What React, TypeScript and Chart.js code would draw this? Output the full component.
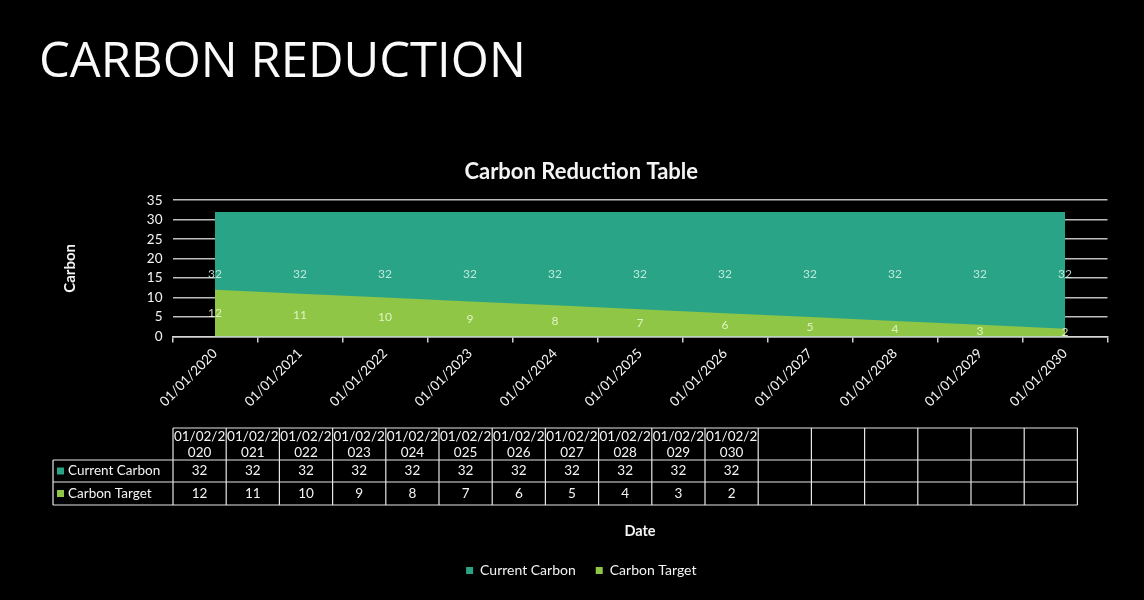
import { useEffect, useRef } from "react";
import { Chart, registerables } from "chart.js";

Chart.register(...registerables);

const pageTitle = "CARBON REDUCTION";
const chartTitle = "Carbon Reduction Table";
const categories = [
  "01/01/2020", "01/01/2021", "01/01/2022", "01/01/2023", "01/01/2024", "01/01/2025",
  "01/01/2026", "01/01/2027", "01/01/2028", "01/01/2029", "01/01/2030",
];
const tableHeaders = [
  "01/02/2020", "01/02/2021", "01/02/2022", "01/02/2023", "01/02/2024", "01/02/2025",
  "01/02/2026", "01/02/2027", "01/02/2028", "01/02/2029", "01/02/2030",
];
const seriesNames = ["Current Carbon", "Carbon Target"];
const currentCarbon = [32, 32, 32, 32, 32, 32, 32, 32, 32, 32, 32];
const carbonTarget = [12, 11, 10, 9, 8, 7, 6, 5, 4, 3, 2];
const yMin = 0;
const yMax = 35;
const yStep = 5;
const yTitle = "Carbon";
const xTitle = "Date";
const emptyTableColumns = 6;

const TEAL = "#2aa487";
const GREEN = "#8fc646";
const FONT = "Lato, 'Open Sans', sans-serif";

const pageTitlePlugin = {
  id: "pageTitle",
  beforeDraw(chart: any) {
    const ctx = chart.ctx;
    ctx.save();
    ctx.fillStyle = "#000";
    ctx.fillRect(0, 0, chart.width, chart.height);
    ctx.fillStyle = "#fafafa";
    ctx.font = "400 49px 'Open Sans', sans-serif";
    ctx.textAlign = "left";
    ctx.textBaseline = "alphabetic";
    ctx.fillText(pageTitle, 39, 77);
    ctx.restore();
  },
};

const valueLabelPlugin = {
  id: "valueLabels",
  afterDatasetsDraw(chart: any) {
    const ctx = chart.ctx;
    const xs = chart.scales.x;
    const ys = chart.scales.y;
    ctx.save();
    ctx.font = `12px ${FONT}`;
    ctx.textAlign = "center";
    ctx.textBaseline = "middle";
    chart.data.datasets.forEach((ds: any) => {
      ctx.fillStyle = ds.label === seriesNames[0] ? "rgba(215,245,235,0.85)" : "rgba(240,250,215,0.85)";
      ds.data.forEach((v: number, i: number) => {
        ctx.fillText(String(v), xs.getPixelForValue(i), ys.getPixelForValue(v / 2));
      });
    });
    ctx.restore();
  },
};

const dataTablePlugin = {
  id: "dataTable",
  afterDraw(chart: any) {
    const ctx = chart.ctx;
    const left = 53;
    const labelRight = 173;
    const colW = 53.2;
    const cols = tableHeaders.length + emptyTableColumns;
    const right = labelRight + colW * cols;
    const yTop = 428;
    const y1 = 460;
    const y2 = 482;
    const y3 = 505;
    ctx.save();
    ctx.strokeStyle = "#e6e6e6";
    ctx.lineWidth = 1.2;
    const line = (ax: number, ay: number, bx: number, by: number) => {
      ctx.beginPath();
      ctx.moveTo(ax, ay);
      ctx.lineTo(bx, by);
      ctx.stroke();
    };
    line(labelRight, yTop, right, yTop);
    line(left, y1, right, y1);
    line(left, y2, right, y2);
    line(left, y3, right, y3);
    line(left, y1, left, y3);
    for (let i = 0; i <= cols; i++) {
      const x = labelRight + i * colW;
      line(x, yTop, x, y3);
    }
    ctx.fillStyle = "#f4f4f4";
    ctx.font = `13.5px ${FONT}`;
    ctx.textAlign = "center";
    ctx.textBaseline = "middle";
    tableHeaders.forEach((h, i) => {
      const cx = labelRight + (i + 0.5) * colW;
      ctx.fillText(h.slice(0, 7), cx, 437);
      ctx.fillText(h.slice(7), cx, 453);
    });
    const rows = [currentCarbon, carbonTarget];
    const rowY = [(y1 + y2) / 2, (y2 + y3) / 2];
    const colors = [TEAL, GREEN];
    rows.forEach((vals, r) => {
      vals.forEach((v, i) => {
        ctx.fillText(String(v), labelRight + (i + 0.5) * colW, rowY[r]);
      });
    });
    ctx.textAlign = "left";
    rows.forEach((_, r) => {
      ctx.fillStyle = colors[r];
      ctx.fillRect(57, rowY[r] - 3.5, 7, 7);
      ctx.fillStyle = "#f4f4f4";
      ctx.fillText(seriesNames[r], 68, rowY[r]);
    });
    ctx.restore();
  },
};

export default function App() {
  const ref = useRef<HTMLCanvasElement>(null);

  useEffect(() => {
    if (!ref.current) return;
    const chart = new Chart(ref.current, {
      type: "line",
      data: {
        labels: categories,
        datasets: [
          {
            label: seriesNames[1],
            data: carbonTarget,
            backgroundColor: GREEN,
            borderColor: GREEN,
            borderWidth: 0,
            pointRadius: 0,
            fill: "origin",
            tension: 0,
          },
          {
            label: seriesNames[0],
            data: currentCarbon,
            backgroundColor: TEAL,
            borderColor: TEAL,
            borderWidth: 0,
            pointRadius: 0,
            fill: "origin",
            tension: 0,
          },
        ],
      },
      options: {
        responsive: false,
        animation: false,
        devicePixelRatio: 1,
        layout: { padding: { left: 55, right: 36.5, top: 0, bottom: 12.5 } },
        plugins: {
          title: {
            display: true,
            text: chartTitle,
            color: "#f4f4f4",
            font: { family: FONT, size: 22, weight: "bold", lineHeight: 1.1 },
            padding: { top: 160, bottom: 16 },
          },
          legend: {
            display: true,
            position: "bottom",
            reverse: true,
            labels: {
              color: "#f4f4f4",
              font: { family: FONT, size: 14 },
              boxWidth: 7,
              boxHeight: 7,
              padding: 20,
            },
          },
          tooltip: { enabled: false },
        },
        scales: {
          x: {
            type: "category",
            offset: true,
            afterFit: (s: any) => {
              s.height = 207;
            },
            grid: {
              offset: true,
              drawOnChartArea: false,
              drawTicks: true,
              tickLength: 6,
              color: "#d0d0d0",
              lineWidth: 1.5,
            },
            border: { display: true, color: "#d8d8d8", width: 1.5 },
            ticks: {
              color: "#f4f4f4",
              font: { family: FONT, size: 13.5 },
              minRotation: 45,
              maxRotation: 45,
              autoSkip: false,
              padding: 3,
            },
            title: {
              display: true,
              text: xTitle,
              color: "#f4f4f4",
              font: { family: FONT, size: 14.5, weight: "bold" },
              padding: { top: 0, bottom: 3 },
            },
          },
          y: {
            min: yMin,
            max: yMax,
            afterFit: (s: any) => {
              s.width = 117.5;
            },
            ticks: {
              stepSize: yStep,
              color: "#f4f4f4",
              font: { family: FONT, size: 13.5 },
              padding: 10,
            },
            grid: {
              drawTicks: false,
              color: "#bdbdbd",
              lineWidth: 1.5,
            },
            border: { display: false },
            title: {
              display: true,
              text: yTitle,
              color: "#f4f4f4",
              font: { family: FONT, size: 15, weight: "bold" },
              padding: { top: 6, bottom: 0 },
            },
          },
        },
      },
      plugins: [pageTitlePlugin, valueLabelPlugin, dataTablePlugin],
    });
    return () => chart.destroy();
  }, []);

  return (
    <div style={{ position: "fixed", inset: 0, background: "#000" }}>
      <canvas ref={ref} width={1144} height={600} style={{ display: "block" }} />
    </div>
  );
}
